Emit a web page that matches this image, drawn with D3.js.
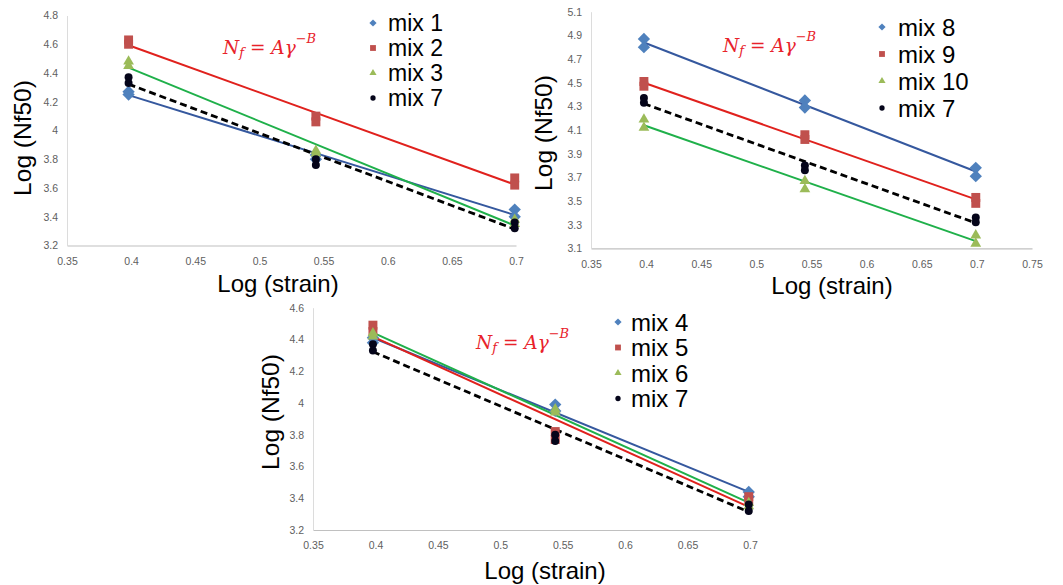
<!DOCTYPE html>
<html>
<head>
<meta charset="utf-8">
<script src="https://cdn.jsdelivr.net/npm/d3@7"></script>
<style>
  html, body { margin: 0; padding: 0; background: #fff; }
  svg { display: block; }
</style>
</head>
<body>
<svg id="chart" width="1063" height="585"></svg>
<script>
// Log of the applied strain levels (2.5, 3.5 and 5 %)
const strainLog = [0.398, 0.544, 0.699];

// Log(Nf50) replicates at each strain level, one pair per level
const mix1 = [[4.27, 4.25], [3.83, 3.80], [3.45, 3.40]];
const mix2 = [[4.63, 4.60], [4.10, 4.06], [3.67, 3.62]];
const mix3 = [[4.48, 4.45], [3.86, 3.84], [3.38, 3.35]];
const mix4 = [[4.41, 4.38], [3.99, 3.95], [3.44, 3.41]];
const mix5 = [[4.49, 4.45], [3.82, 3.77], [3.41, 3.38]];
const mix6 = [[4.44, 4.42], [3.96, 3.94], [3.37, 3.35]];
const mix7 = [[4.37, 4.33], [3.80, 3.76], [3.36, 3.32]];
const mix8 = [[4.87, 4.80], [4.35, 4.29], [3.78, 3.71]];
const mix9 = [[4.51, 4.47], [4.06, 4.02], [3.53, 3.48]];
const mix10 = [[4.19, 4.12], [3.67, 3.60], [3.21, 3.14]];

// Axis ticks
const xTicksShort = ["0.35", "0.4", "0.45", "0.5", "0.55", "0.6", "0.65", "0.7"];
const xTicksLong = ["0.35", "0.4", "0.45", "0.5", "0.55", "0.6", "0.65", "0.7", "0.75"];
const yTicksA = ["3.2", "3.4", "3.6", "3.8", "4", "4.2", "4.4", "4.6", "4.8"];
const yTicksB = ["3.1", "3.3", "3.5", "3.7", "3.9", "4.1", "4.3", "4.5", "4.7", "4.9", "5.1"];
const yTicksC = ["3.2", "3.4", "3.6", "3.8", "4", "4.2", "4.4", "4.6"];

// Series labels per panel
const namesA = ["mix 1", "mix 2", "mix 3", "mix 7"];
const namesB = ["mix 8", "mix 9", "mix 10", "mix 7"];
const namesC = ["mix 4", "mix 5", "mix 6", "mix 7"];

const styles = [
  { shape: "diamond", fill: "#4f81bd", line: "#35589e", dash: null, width: 2 },
  { shape: "square", fill: "#c0504d", line: "#e0211d", dash: null, width: 2 },
  { shape: "triangle", fill: "#9bbb59", line: "#1fb04a", dash: null, width: 2 },
  { shape: "circle", fill: "#05051a", line: "#000000", dash: "7,4", width: 2.8 }
];

const panels = [
  {
    series: [mix1, mix2, mix3, mix7], names: namesA,
    xTicks: xTicksShort, yTicks: yTicksA,
    xRange: [67, 516], yRange: [245.5, 15.5],
    legend: { mx: 373, tx: 388, y0: 23, dy: 25, size: 23 },
    eq: { x: 223, y: 47 },
    xTitle: { x: 278, y: 283 }, yTitle: { x: 22, y: 138 }
  },
  {
    series: [mix8, mix9, mix10, mix7], names: namesB,
    xTicks: xTicksLong, yTicks: yTicksB,
    xRange: [591, 1032], yRange: [248.3, 11.7],
    legend: { mx: 882, tx: 898, y0: 27, dy: 27, size: 24 },
    eq: { x: 723, y: 45 },
    xTitle: { x: 832, y: 285 }, yTitle: { x: 543, y: 133 }
  },
  {
    series: [mix4, mix5, mix6, mix7], names: namesC,
    xTicks: xTicksShort, yTicks: yTicksC,
    xRange: [313, 750], yRange: [530, 307.7],
    legend: { mx: 618, tx: 631, y0: 322, dy: 25.5, size: 24 },
    eq: { x: 476, y: 342 },
    xTitle: { x: 545, y: 570 }, yTitle: { x: 270, y: 412 }
  }
];

const svg = d3.select("#chart");
const tickFont = "'Liberation Sans', Arial, sans-serif";
const textFont = "'Liberation Sans', Arial, sans-serif";

function markerPath(shape, big) {
  if (shape === "diamond") return d3.symbol(d3.symbolSquare, big ? 76 : 26)();
  if (shape === "square") return d3.symbol(d3.symbolSquare, big ? 80 : 34)();
  if (shape === "triangle") return d3.symbol(d3.symbolTriangle, big ? 50 : 22)();
  return d3.symbol(d3.symbolCircle, big ? 50 : 22)();
}

// Least-squares straight line through all replicates of a series
function fit(values) {
  const pts = [];
  values.forEach((pair, i) => pair.forEach(v => pts.push([strainLog[i], v])));
  const mx = d3.mean(pts, p => p[0]);
  const my = d3.mean(pts, p => p[1]);
  const sxy = d3.sum(pts, p => (p[0] - mx) * (p[1] - my));
  const sxx = d3.sum(pts, p => (p[0] - mx) ** 2);
  const b = sxy / sxx;
  const a = my - b * mx;
  const x0 = d3.min(strainLog), x1 = d3.max(strainLog);
  return [[x0, a + b * x0], [x1, a + b * x1]];
}

panels.forEach(p => {
  const xVals = p.xTicks.map(Number);
  const yVals = p.yTicks.map(Number);
  const x = d3.scaleLinear().domain(d3.extent(xVals)).range(p.xRange);
  const y = d3.scaleLinear().domain(d3.extent(yVals)).range(p.yRange);
  const g = svg.append("g");

  // axes
  const xAxis = d3.axisBottom(x).tickValues(xVals).tickSize(0).tickPadding(12)
    .tickFormat((d, i) => p.xTicks[i]);
  const yAxis = d3.axisLeft(y).tickValues(yVals).tickSize(0).tickPadding(9)
    .tickFormat((d, i) => p.yTicks[i]);

  const gx = g.append("g").attr("transform", `translate(0,${p.yRange[0]})`).call(xAxis);
  const gy = g.append("g").attr("transform", `translate(${p.xRange[0]},0)`).call(yAxis);
  gx.select(".domain").attr("stroke", "#c0c0c0").attr("stroke-width", 1.2);
  gy.select(".domain").attr("stroke", "#dcdcdc").attr("stroke-width", 1);
  [gx, gy].forEach(a => a.selectAll("text")
    .attr("font-family", tickFont).attr("font-size", 10.5).attr("fill", "#606060"));

  // trend lines
  p.series.forEach((s, i) => {
    const st = styles[i];
    const seg = fit(s);
    g.append("path")
      .attr("d", d3.line().x(d => x(d[0])).y(d => y(d[1]))(seg))
      .attr("fill", "none")
      .attr("stroke", st.line)
      .attr("stroke-width", st.width)
      .attr("stroke-dasharray", st.dash);
  });

  // markers
  p.series.forEach((s, i) => {
    const st = styles[i];
    const pts = [];
    s.forEach((pair, k) => pair.forEach(v => pts.push([strainLog[k], v])));
    g.selectAll(null).data(pts).join("path")
      .attr("d", markerPath(st.shape, true))
      .attr("transform", d => `translate(${x(d[0])},${y(d[1])})` + (st.shape === "diamond" ? " rotate(45)" : ""))
      .attr("fill", st.fill);
  });

  // legend
  p.names.forEach((name, i) => {
    const st = styles[i];
    const ly = p.legend.y0 + i * p.legend.dy;
    g.append("path")
      .attr("d", markerPath(st.shape, false))
      .attr("transform", `translate(${p.legend.mx},${ly})` + (st.shape === "diamond" ? " rotate(45)" : ""))
      .attr("fill", st.fill);
    g.append("text")
      .attr("x", p.legend.tx).attr("y", ly)
      .attr("dominant-baseline", "central")
      .attr("font-family", textFont).attr("font-size", p.legend.size)
      .attr("fill", "#000").text(name);
  });

  // fatigue law annotation
  const eq = g.append("text")
    .attr("x", p.eq.x).attr("y", p.eq.y)
    .attr("dominant-baseline", "central")
    .attr("font-family", "'DejaVu Serif', 'Liberation Serif', serif")
    .attr("font-size", 18.5).attr("fill", "#e8222a");
  eq.append("tspan").attr("font-style", "italic").text("N");
  eq.append("tspan").attr("font-style", "italic").attr("font-size", 13).attr("dy", 5).text("f");
  eq.append("tspan").attr("dy", -5).text(" = ");
  eq.append("tspan").attr("font-style", "italic").text("Aγ");
  eq.append("tspan").attr("font-size", 13).attr("dy", -9).text("−");
  eq.append("tspan").attr("font-style", "italic").attr("font-size", 13).text("B");

  // axis titles
  g.append("text")
    .attr("x", p.xTitle.x).attr("y", p.xTitle.y)
    .attr("text-anchor", "middle").attr("dominant-baseline", "central")
    .attr("font-family", textFont).attr("font-size", 24).attr("fill", "#000")
    .text("Log (strain)");
  g.append("text")
    .attr("transform", `translate(${p.yTitle.x},${p.yTitle.y}) rotate(-90)`)
    .attr("text-anchor", "middle").attr("dominant-baseline", "central")
    .attr("font-family", textFont).attr("font-size", 24.5).attr("fill", "#000")
    .text("Log (Nf50)");
});
</script>
</body>
</html>
